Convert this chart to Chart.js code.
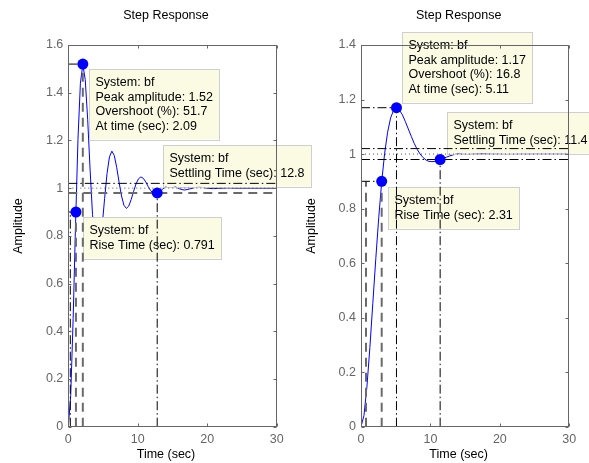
<!DOCTYPE html>
<html><head><meta charset="utf-8">
<script src="https://cdn.jsdelivr.net/npm/chart.js@4/dist/chart.umd.min.js"></script>
<style>
html,body{margin:0;padding:0;background:#fff;}
#wrap{position:relative;width:589px;height:463px;overflow:hidden;}
canvas{position:absolute;left:0;top:0;}
</style>
</head><body>
<div id="wrap"><canvas id="c1" width="589" height="463"></canvas><canvas id="c2" width="589" height="463"></canvas></div>
<script>
// ---------- data ----------
const leftTime = [0,0.348,0.697,1.045,1.393,1.742,2.090,2.439,2.787,3.135,3.484,3.832,4.180,4.529,4.877,5.226,5.574,5.922,6.271,6.619,6.967,7.316,7.664,8.013,8.361,8.709,9.058,9.406,9.754,10.103,10.451,10.799,11.148,11.496,11.845,12.193,12.541,12.890,13.238,13.586,13.935,14.283,14.632,14.980,15.328,15.677,16.025,16.373,16.722,17.418,18.115,18.812,19.509,20.205,20.902,21.599,22.296,22.992,24,26,28,30];
const leftAmp = [0,0.130,0.453,0.849,1.205,1.440,1.518,1.455,1.289,1.080,0.890,0.761,0.716,0.751,0.842,0.956,1.061,1.131,1.155,1.137,1.087,1.024,0.967,0.928,0.915,0.925,0.953,0.987,1.018,1.039,1.047,1.041,1.026,1.007,0.990,0.979,0.974,0.978,0.986,0.996,1.005,1.012,1.014,1.012,1.008,1.002,0.997,0.994,0.992,0.996,1.002,1.004,1.002,0.999,0.998,0.999,1.000,1.001,1.000,1.000,1.000,1.000];
const rightTime = [0,0.426,0.852,1.278,1.703,2.129,2.555,2.981,3.407,3.833,4.258,4.684,5.110,5.536,5.962,6.388,6.814,7.240,7.665,8.091,8.517,8.943,9.369,9.795,10.220,10.646,11.072,11.498,11.924,12.350,12.776,13.63,14.48,15.33,16.18,17.03,17.89,18.74,19.6,21,23,26,30];
const rightAmp = [0,0.041,0.146,0.290,0.453,0.616,0.767,0.898,1.003,1.080,1.132,1.160,1.168,1.161,1.144,1.119,1.092,1.065,1.039,1.017,1.000,0.987,0.978,0.973,0.972,0.973,0.976,0.980,0.985,0.989,0.993,1.000,1.004,1.005,1.004,1.003,1.001,1.000,1.000,0.999,1.000,1.000,1.000];

// characteristic points: [rise(90%), peak, settling]
const leftMarkT = [1.1, 2.09, 12.8];
const leftMarkY = [0.9, 1.52, 0.98];
const rightMarkT = [2.98, 5.11, 11.4];
const rightMarkY = [0.9, 1.17, 0.98];
const leftRise10T = 0.29;
const rightRise10T = 0.72;
const settleBand = [0.98, 1.0, 1.02];

const xTicks = [0, 10, 20, 30];
const leftYTicks = [0, 0.2, 0.4, 0.6, 0.8, 1, 1.2, 1.4, 1.6];
const rightYTicks = [0, 0.2, 0.4, 0.6, 0.8, 1, 1.2, 1.4];

const leftTips = [
  ['System: bf', 'Rise Time (sec): 0.791'],
  ['System: bf', 'Peak amplitude: 1.52', 'Overshoot (%): 51.7', 'At time (sec): 2.09'],
  ['System: bf', 'Settling Time (sec): 12.8']
];
const rightTips = [
  ['System: bf', 'Rise Time (sec): 2.31'],
  ['System: bf', 'Peak amplitude: 1.17', 'Overshoot (%): 16.8', 'At time (sec): 5.11'],
  ['System: bf', 'Settling Time (sec): 11.4']
];
const titleText = 'Step Response';
const xLabelText = 'Time (sec)';
const yLabelText = 'Amplitude';

// ---------- styling / layout ----------
const FONT = '"Liberation Sans", Arial, Helvetica, sans-serif';
const STY = {
  dashdot: {c: '#000000', w: 1, d: [9, 3, 1.5, 3]},
  gray: {c: '#6a6a6a', w: 2, d: [9, 6]},
  dot: {c: '#555555', w: 1, d: [1, 3]}
};
function guide(points, s) {
  const st = STY[s];
  return {data: points.map(p => ({x: p[0], y: p[1]})), borderColor: st.c, borderWidth: st.w,
    borderDash: st.d, pointRadius: 0, tension: 0, fill: false, order: 5, borderCapStyle: 'butt'};
}

function plugin(cfg) {
  return {
    id: 'matlabLook' + cfg.id,
    afterDatasetDraw(chart, args) {
      if (args.index !== 0) return;
      const ctx = chart.ctx, xs = chart.scales.x, ys = chart.scales.y;
      ctx.save();
      ctx.font = '12.5px ' + FONT;
      cfg.tips.forEach((lines, i) => {
        const px = xs.getPixelForValue(cfg.markT[i]);
        const py = ys.getPixelForValue(cfg.markY[i]);
        const lay = cfg.tipLayout[i];
        const w = Math.max(...lines.map(s => ctx.measureText(s).width)) + 13;
        const h = lines.length * 14.5 + 12.5;
        const left = Math.round(px + lay.dx), top = Math.round(py + lay.dy);
        ctx.fillStyle = '#fbfbe4';
        ctx.fillRect(left, top, w, h);
        ctx.strokeStyle = '#cfcfcf';
        ctx.lineWidth = 1;
        ctx.strokeRect(left + 0.5, top + 0.5, Math.round(w), Math.round(h));
        ctx.fillStyle = '#000';
        ctx.textBaseline = 'middle';
        ctx.textAlign = 'left';
        lines.forEach((s, j) => ctx.fillText(s, left + 6.5, top + 13.75 + j * 14.5));
      });
      ctx.restore();
    },
    afterDraw(chart) {
      const ctx = chart.ctx, xs = chart.scales.x, ys = chart.scales.y;
      const a = chart.chartArea;
      const L = Math.round(a.left) + 0.5, R = Math.round(a.right) - 0.5;
      const T = Math.round(a.top) + 0.5, B = Math.round(a.bottom) - 0.5;
      ctx.save();
      ctx.strokeStyle = '#666';
      ctx.lineWidth = 1;
      ctx.setLineDash([]);
      ctx.strokeRect(L, T, R - L, B - T);
      ctx.beginPath();
      xTicks.forEach(v => {
        const x = Math.round(xs.getPixelForValue(v)) + 0.5;
        ctx.moveTo(x, B); ctx.lineTo(x, B - 3);
        ctx.moveTo(x, T); ctx.lineTo(x, T + 3);
      });
      cfg.yTicks.forEach(v => {
        const y = Math.round(ys.getPixelForValue(v)) + 0.5;
        ctx.moveTo(L, y); ctx.lineTo(L + 3, y);
        ctx.moveTo(R, y); ctx.lineTo(R - 3, y);
      });
      ctx.stroke();
      ctx.fillStyle = '#000';
      ctx.font = '12.5px ' + FONT;
      ctx.textAlign = 'center';
      ctx.textBaseline = 'middle';
      const cx = (a.left + a.right) / 2 - 6.5;
      ctx.fillText(titleText, cx, 16);
      ctx.fillText(xLabelText, cx, 455);
      ctx.translate(a.left - 49.5, 226);
      ctx.rotate(-Math.PI / 2);
      ctx.fillText(yLabelText, 0, 0);
      ctx.restore();
    }
  };
}

function makeChart(canvasId, cfg) {
  const datasets = [
    {data: cfg.time.map((t, i) => ({x: t, y: cfg.amp[i]})), borderColor: '#0000ff', borderWidth: 1,
      pointRadius: 0, tension: 0, fill: false, order: 10},
    ...cfg.guides,
    {data: cfg.markT.map((t, i) => ({x: t, y: cfg.markY[i]})), showLine: false, pointRadius: 5.5,
      pointBackgroundColor: '#0000ff', pointBorderColor: '#0000ff', pointBorderWidth: 0, order: 0}
  ];
  const tickFont = {family: FONT, size: 12.5};
  return new Chart(document.getElementById(canvasId), {
    type: 'line',
    data: {datasets},
    options: {
      responsive: false, animation: false, devicePixelRatio: 1,
      layout: {padding: {left: cfg.padLeft, right: cfg.padRight, top: 45, bottom: 0}},
      plugins: {legend: {display: false}, tooltip: {enabled: false}, title: {display: false}},
      scales: {
        x: {type: 'linear', min: 0, max: 30,
          grid: {display: false, drawTicks: false}, border: {display: false},
          ticks: {color: '#666', font: tickFont, padding: 5, maxRotation: 0, autoSkip: false,
            callback: v => String(v)},
          afterBuildTicks: s => { s.ticks = xTicks.map(v => ({value: v})); },
          afterFit: s => { s.height = 36.3; }},
        y: {type: 'linear', min: 0, max: cfg.yMax,
          grid: {display: false, drawTicks: false}, border: {display: false},
          ticks: {color: '#666', font: tickFont, padding: 5, autoSkip: false,
            callback: v => String(v)},
          afterBuildTicks: s => { s.ticks = cfg.yTicks.map(v => ({value: v})); },
          afterFit: s => { s.width = cfg.yAxisW; }}
      }
    },
    plugins: [plugin(cfg)]
  });
}

const lg = leftMarkT, lv = leftMarkY;
makeChart('c1', {
  id: 'L', time: leftTime, amp: leftAmp, markT: leftMarkT, markY: leftMarkY, tips: leftTips,
  yTicks: leftYTicks, yMax: 1.6, padLeft: 0, yAxisW: 68.3, padRight: 589 - 276.7,
  tipLayout: [{dx: 6.8, dy: 5}, {dx: 6.5, dy: 5}, {dx: 6, dy: -48}],
  guides: [
    guide([[0, settleBand[2]], [30, settleBand[2]]], 'dashdot'),
    guide([[0, settleBand[1]], [30, settleBand[1]]], 'dot'),
    guide([[0, settleBand[0]], [30, settleBand[0]]], 'gray'),
    guide([[0, lv[1]], [lg[1], lv[1]]], 'dashdot'),
    guide([[lg[1], 0], [lg[1], lv[1]]], 'gray'),
    guide([[lg[2], 0], [lg[2], lv[2]]], 'dashdot'),
    guide([[0, lv[0]], [lg[0], lv[0]]], 'dashdot'),
    guide([[lg[0], 0], [lg[0], lv[0]]], 'gray'),
    guide([[leftRise10T, 0], [leftRise10T, lv[0]]], 'dashdot')
  ]
});

const rg = rightMarkT, rv = rightMarkY;
makeChart('c2', {
  id: 'R', time: rightTime, amp: rightAmp, markT: rightMarkT, markY: rightMarkY, tips: rightTips,
  yTicks: rightYTicks, yMax: 1.4, padLeft: 295, yAxisW: 66, padRight: 589 - 569.3,
  tipLayout: [{dx: 6.6, dy: 5.3}, {dx: 5.8, dy: -76}, {dx: 6.5, dy: -48}],
  guides: [
    guide([[0, settleBand[2]], [30, settleBand[2]]], 'dashdot'),
    guide([[0, settleBand[1]], [30, settleBand[1]]], 'dot'),
    guide([[0, settleBand[0]], [30, settleBand[0]]], 'dashdot'),
    guide([[0, rv[1]], [rg[1], rv[1]]], 'dashdot'),
    guide([[rg[1], 0], [rg[1], rv[1]]], 'dashdot'),
    guide([[rg[2], 0], [rg[2], rv[2]]], 'dashdot'),
    guide([[0, rv[0]], [rg[0], rv[0]]], 'dashdot'),
    guide([[rg[0], 0], [rg[0], rv[0]]], 'gray'),
    guide([[rightRise10T, 0], [rightRise10T, rv[0]]], 'gray')
  ]
});
</script>
</body></html>
